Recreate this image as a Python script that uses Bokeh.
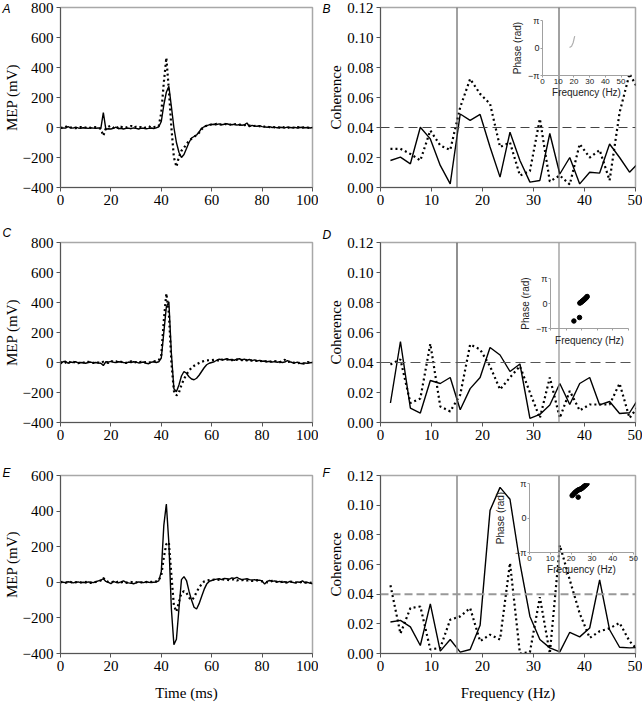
import math
from bokeh.plotting import figure
from bokeh.models import GridBox, Range1d, FixedTicker, Label, Span, NumeralTickFormatter
from bokeh.embed import file_html
from bokeh.resources import INLINE

# ---------------- data ----------------
time_ms = [0, 1, 2, 3, 4, 5, 6, 7, 8, 9, 10, 11, 12, 13, 14, 15, 16, 17, 18, 19,
           20, 21, 22, 23, 24, 25, 26, 27, 28, 29, 30, 31, 32, 33, 34, 35, 36, 37, 38, 39,
           40, 41, 42, 43, 44, 45, 46, 47, 48, 49, 50, 51, 52, 53, 54, 55, 56, 57, 58, 59,
           60, 61, 62, 63, 64, 65, 66, 67, 68, 69, 70, 71, 72, 73, 74, 75, 76, 77, 78, 79,
           80, 81, 82, 83, 84, 85, 86, 87, 88, 89, 90, 91, 92, 93, 94, 95, 96, 97, 98, 99, 100]

mep_a_solid = [-5, -3, -4, 6, -2, -4, 2, -3, -5, -2, -3, -6, -2, -4, -5, -3, -8,
               100,
               -12, -8, -10, -6, 2, -8, -5, -10, -6, -4, -8, -3, -6, -10, -4, -5, -8, -6, -3, -7, -2,
               5, 40, 150, 235, 275, 140, 0, -100, -165, -200, -180, -140, -100, -70, -60, -50, -30, -5, 5, 12, 18, 20,
               22, 20, 24, 18, 22, 25, 20, 18, 22, 16, 20, 15, 18, 30, 5, 14, 10, 8, 12, 6,
               4, 2, 6, 0, 3, -2, 2, 0, -3, 2, 0, -2, 1, -3, 0, 2, -2, 0, -3, 0]
mep_a_dotted = [0, -3, 5, 8, 0, -2, -5, 0, 3, -2, 0, 5, -3, 0, 2, -2, -10,
                -55,
                -5, 5, 12, -2, 8, -5, 5, -3, 0, 6, 10, -2, 5, 0, 3, -4, 2, 8, 0, 3, 5,
                10, 100, 300, 465, 250, 0, -200, -262, -195, -155, -135, -110, -90, -75, -62, -50, -35, -12, 5, 12, 18, 20,
                20, 24, 22, 18, 25, 20, 22, 17, 20, 24, 18, 20, 16, 18, 12, 15, 10, 12, 8, 10,
                5, 8, 2, 5, 0, 3, -2, 4, 0, -3, 2, 0, -2, 3, 0, -2, 2, 0, -3, 0]
mep_c_solid = [-10, 5, 8, -5, 3, 0, 5, -3, 0, -2, -5, 0, 3, -2, 0, -3, -5,
               -20,
               5, 3, 8, 2, 0, 5, 3, 0, -2, 3, 0, 5, 2, -3, 0, 3, -5, -8, 2, 5, 0,
               5, 30, 200, 370, 405, 60, -175, -195, -150, -90, -60, -72, -95, -110, -115, -105, -85, -60, -35, -15, -5, 0,
               5, 15, 22, 18, 20, 25, 18, 20, 15, 22, 25, 18, 22, 15, 20, 12, 18, 10, 14, 8,
               10, 5, 8, 3, 6, 2, 5, 0, 3, 12, 5, 0, -3, 2, -5, -8, -3, -6, -2, 0]
mep_c_dotted = [5, -8, 0, 10, -3, 5, 0, -5, 3, 0, -2, 5, 0, -3, 2, 0, -3,
                5,
                0, -3, 10, 5, 8, -2, 5, 0, -3, 2, 8, 0, 3, -2, 5, 0, 2, -3, 5, 8, 10,
                15, 50, 280, 460, 330, 0, -190, -220, -200, -150, -110, -80, -55, -35, -22, -12, -3, 5, 10, 14, 15, 15,
                18, 15, 12, 20, 15, 18, 22, 15, 20, 18, 22, 15, 20, 14, 18, 12, 15, 10, 12, 8,
                10, 5, 8, 3, 10, 5, 2, 8, 18, 3, 5, 0, -3, -5, -2, -8, -5, 2, 0, 3]
mep_e_solid = [5, 0, -2, 3, 0, -3, 0, 2, -2, 0, -3, 2, 0, -2, 3, 8, 12,
               20,
               5, 0, -8, 5, 0, -3, 2, 8, 0, -3, -5, -8, -3, 2, 0, -2, 3, 0, -2, 0, 2,
               8, 60, 320, 440, 220, -150, -350, -320, -150, 15, 32, 10, -50, -100, -140, -150, -120, -80, -40, -10, 5, 10,
               15, 18, 20, 15, 22, 20, 18, 25, 22, 28, 20, 15, 18, 20, 15, 12, 15, 10, 12, 8,
               -10, 5, 10, 5, 8, 2, 5, 0, 3, -2, 5, 0, -3, 2, 0, 8, -2, 0, -5, -8]
mep_e_dotted = [0, 3, -2, 0, 2, -3, 0, 3, 0, -2, 2, 0, -3, 0, 2, 5, 10,
                25,
                8, 2, 0, 3, -2, 5, 0, 2, -3, 0, 2, -2, 0, 3, 0, -2, 2, 0, 3, 0, 5,
                12, 40, 140, 215, 225, 40, -130, -165, -110, -60, -50, -60, -85, -100, -85, -55, -30, -10, 5, 10, 12, 14,
                15, 12, 15, 18, 14, 16, 12, 15, 18, 10, 14, 12, 15, 10, 12, 8, 10, 12, 8, 5,
                5, 0, 3, 8, 5, 2, 0, 3, -2, 0, 5, 2, 0, -3, 0, 2, -2, 0, -3, 0]

freq_hz = [1.95, 3.91, 5.86, 7.81, 9.77, 11.72, 13.67, 15.63, 17.58, 19.53, 21.48, 23.44, 25.39,
           27.34, 29.30, 31.25, 33.20, 35.16, 37.11, 39.06, 41.02, 42.97, 44.92, 46.88, 48.83, 50.78]

coh_b_solid = [0.0180, 0.0202, 0.0158, 0.0402, 0.0324, 0.0147, 0.0024, 0.0490, 0.0447, 0.0487, 0.0270, 0.0069, 0.0369,
               0.0180, 0.0036, 0.0047, 0.0360, 0.0090, 0.0200, 0.0024, 0.0102, 0.0096, 0.0290, 0.0200, 0.0102, 0.0170]
coh_b_dotted = [0.0258, 0.0258, 0.0224, 0.0180, 0.0380, 0.0280, 0.0250, 0.0535, 0.0724, 0.0624, 0.0558, 0.0270, 0.0300,
                0.0080, 0.0110, 0.0458, 0.0040, 0.0080, 0.0020, 0.0290, 0.0200, 0.0250, 0.0047, 0.0500, 0.0758, 0.0640]
coh_d_solid = [0.0130, 0.0540, 0.0096, 0.0063, 0.0280, 0.0260, 0.0300, 0.0085, 0.0226, 0.0300, 0.0500, 0.0450, 0.0340,
               0.0390, 0.0027, 0.0054, 0.0117, 0.0260, 0.0120, 0.0260, 0.0300, 0.0117, 0.0140, 0.0060, 0.0065, 0.0170]
coh_d_dotted = [0.0387, 0.0420, 0.0130, 0.0160, 0.0525, 0.0107, 0.0074, 0.0185, 0.0520, 0.0487, 0.0375, 0.0220, 0.0300,
                0.0375, 0.0200, 0.0030, 0.0300, 0.0030, 0.0210, 0.0080, 0.0120, 0.0120, 0.0120, 0.0260, 0.0030, 0.0120]
coh_f_solid = [0.0212, 0.0223, 0.0180, 0.0054, 0.0335, 0.0016, 0.0094, 0.0009, 0.0027, 0.0190, 0.0965, 0.1120, 0.1040,
               0.0610, 0.0250, 0.0094, 0.0038, 0.0011, 0.0143, 0.0112, 0.0172, 0.0496, 0.0160, 0.0042, 0.0038, 0.0040]
coh_f_dotted = [0.0460, 0.0134, 0.0306, 0.0317, 0.0027, 0.0038, 0.0228, 0.0250, 0.0306, 0.0083, 0.0127, 0.0094, 0.0610,
                0.0000, 0.0010, 0.0380, 0.0000, 0.0730, 0.0496, 0.0270, 0.0105, 0.0150, 0.0170, 0.0206, 0.0083, 0.0010]

coh_threshold = 0.04
band_edges_hz = [15, 35]

phase_b_freq = [17.2, 18.5, 19.5, 20.5]
phase_b_rad = [0.05, 0.2, 0.6, 1.35]
phase_d_freq = [15.0, 18.6, 18.8, 19.2, 19.6, 20.0, 20.4, 20.8, 21.2, 21.6, 22.0, 22.4, 22.8, 23.2, 23.5]
phase_d_rad = [-2.2, -1.76, 0.05, 0.1, 0.17, 0.22, 0.3, 0.36, 0.42, 0.5, 0.56, 0.64, 0.72, 0.8, 0.88]
phase_f_freq = [20.5, 21.0, 21.5, 22.0, 22.5, 23.0, 23.5, 23.4, 24.0, 24.5, 25.0, 25.5, 26.0, 26.5, 27.0, 27.4, 27.7]
phase_f_rad = [2.04, 2.14, 2.25, 2.35, 2.42, 2.5, 2.56, 1.9, 2.6, 2.62, 2.68, 2.75, 2.83, 2.92, 3.0, 3.08, 3.14]

time_ticks = [0, 20, 40, 60, 80, 100]
mep_ticks_ac = [-400, -200, 0, 200, 400, 600, 800]
mep_ticks_e = [-400, -200, 0, 200, 400, 600]
freq_ticks = [0, 10, 20, 30, 40, 50]
coh_ticks = [0.0, 0.02, 0.04, 0.06, 0.08, 0.10, 0.12]
phase_ticks = [-math.pi, 0, math.pi]
phase_tick_text = {-math.pi: "\u2212\u03c0", 0: "0", math.pi: "\u03c0"}
panel_letters = ["A", "B", "C", "D", "E", "F"]

SERIF = "Liberation Serif"
SANS = "Liberation Sans"

# cell sizes (px)
LW, RW = 318, 324
ROW_H = [226, 238, 239]


def base_fig(width, height, bl, br, bt, bb, xr, yr):
    p = figure(width=width, height=height, x_range=Range1d(*xr), y_range=Range1d(*yr),
               output_backend="svg", toolbar_location=None,
               min_border_left=bl, min_border_right=br, min_border_top=bt, min_border_bottom=bb,
               align="start", frame_align=False)
    p.grid.visible = False
    return p


def main_fig(width, height, bl, br, bt, bb, xr, yr, xt, yt, ylabel, xlabel=None, yfmt=None):
    p = base_fig(width, height, bl, br, bt, bb, xr, yr)
    p.outline_line_color = "#a8a8a8"
    p.outline_line_width = 1.5
    p.background_fill_color = "white"
    p.xaxis.ticker = FixedTicker(ticks=xt)
    p.yaxis.ticker = FixedTicker(ticks=yt)
    if yfmt:
        p.yaxis.formatter = NumeralTickFormatter(format=yfmt)
    for ax in (p.xaxis[0], p.yaxis[0]):
        ax.axis_line_color = "#555555"
        ax.major_tick_line_color = "#555555"
        ax.minor_tick_line_color = None
        ax.major_tick_out = 4
        ax.major_tick_in = 0
        ax.major_label_standoff = 3
        ax.major_label_text_font = SERIF
        ax.major_label_text_font_size = "15px"
        ax.major_label_text_color = "black"
        ax.axis_label_text_font = SERIF
        ax.axis_label_text_font_size = "15px"
        ax.axis_label_text_font_style = "normal"
        ax.axis_label_text_color = "black"
        ax.axis_label_standoff = 0
    p.xaxis.major_label_standoff = 3
    p.yaxis.axis_label = ylabel
    if xlabel:
        p.xaxis.axis_label = xlabel
        p.xaxis.axis_label_standoff = 11
    return p


def letter_overlay(width, height, letter, lx, ly):
    p = base_fig(width, height, 0, 0, 0, 0, (0, width), (height, 0))
    p.axis.visible = False
    p.outline_line_color = None
    p.background_fill_color = None
    p.border_fill_color = None
    p.add_layout(Label(x=lx, y=ly, text=letter, text_font=SANS, text_font_style="italic",
                       text_font_size="12px", text_baseline="middle", text_align="left",
                       text_color="black"))
    return p


def inset_fig(width, height, bl, br, bt, bb, xr, show_xlabels, ylabel_standoff=2):
    p = base_fig(width, height, bl, br, bt, bb, xr, (-math.pi, math.pi))
    p.outline_line_color = None
    p.background_fill_color = None
    p.border_fill_color = None
    p.xaxis.ticker = FixedTicker(ticks=freq_ticks)
    p.yaxis.ticker = FixedTicker(ticks=phase_ticks)
    p.yaxis.major_label_overrides = phase_tick_text
    for ax in (p.xaxis[0], p.yaxis[0]):
        ax.axis_line_color = "#a0a0a0"
        ax.major_tick_line_color = "#a0a0a0"
        ax.minor_tick_line_color = None
        ax.major_tick_out = 2
        ax.major_tick_in = 0
        ax.major_label_standoff = 1
        ax.major_label_text_font = SANS
        ax.major_label_text_font_size = "8px"
        ax.major_label_text_color = "#222222"
        ax.axis_label_text_font = SANS
        ax.axis_label_text_font_size = "10px"
        ax.axis_label_text_font_style = "normal"
        ax.axis_label_text_color = "#222222"
        ax.axis_label_standoff = 2
    p.yaxis.major_label_text_font_size = "9px"
    p.yaxis.axis_label_standoff = ylabel_standoff
    p.xaxis.axis_label = "Frequency (Hz)"
    p.yaxis.axis_label = "Phase (rad)"
    if not show_xlabels:
        p.xaxis.major_label_text_alpha = 0
        p.xaxis.axis_label_standoff = 4
    else:
        p.xaxis.axis_label_standoff = 0
    return p


# ---------------- MEP panels ----------------
pA = main_fig(LW, ROW_H[0], 58, 6, 7, 39, (0, 100), (-400, 800), time_ticks, mep_ticks_ac, "MEP (mV)")
pC = main_fig(LW, ROW_H[1], 58, 6, 16, 42, (0, 100), (-400, 800), time_ticks, mep_ticks_ac, "MEP (mV)")
pE = main_fig(LW, ROW_H[2], 58, 6, 11, 49, (0, 100), (-400, 600), time_ticks, mep_ticks_e, "MEP (mV)",
              xlabel="Time (ms)")
for p, s, d in ((pA, mep_a_solid, mep_a_dotted), (pC, mep_c_solid, mep_c_dotted), (pE, mep_e_solid, mep_e_dotted)):
    p.line(time_ms, d, line_color="black", line_width=2.2, line_dash="2 3")
    p.line(time_ms, s, line_color="black", line_width=1.4)

# ---------------- coherence panels ----------------
pB = main_fig(RW, ROW_H[0], 62, 7, 7, 39, (0, 50), (0, 0.12), freq_ticks, coh_ticks, "Coherence", yfmt="0.00")
pD = main_fig(RW, ROW_H[1], 62, 7, 16, 42, (0, 50), (0, 0.12), freq_ticks, coh_ticks, "Coherence", yfmt="0.00")
pF = main_fig(RW, ROW_H[2], 62, 7, 11, 49, (0, 50), (0, 0.12), freq_ticks, coh_ticks, "Coherence", yfmt="0.00",
              xlabel="Frequency (Hz)")

styles = {
    pB: dict(vcol=["#444444", "#444444"], vw=1.0, tcol="#444444", tw=1.0, tdash="9 5"),
    pD: dict(vcol=["#555555", "#999999"], vw=1.3, tcol="#555555", tw=1.0, tdash="10 5"),
    pF: dict(vcol=["#888888", "#888888"], vw=1.5, tcol="#999999", tw=2.0, tdash="8 4"),
}
for p, s, d in ((pB, coh_b_solid, coh_b_dotted), (pD, coh_d_solid, coh_d_dotted), (pF, coh_f_solid, coh_f_dotted)):
    st = styles[p]
    for edge, col in zip(band_edges_hz, st["vcol"]):
        p.add_layout(Span(location=edge, dimension="height", line_color=col, line_width=st["vw"]))
    p.add_layout(Span(location=coh_threshold, dimension="width", line_color=st["tcol"],
                      line_width=st["tw"], line_dash=st["tdash"]))
    p.line(freq_hz, d, line_color="black", line_width=2.2, line_dash="2 3")
    p.line(freq_hz, s, line_color="black", line_width=1.4)

# ---------------- phase insets (transparent overlays, frame placed by borders) ----------------
iB = inset_fig(RW, ROW_H[0], 224, 12, 20, 151, (0, 56), True)
iB.line(phase_b_freq, phase_b_rad, line_color="#b0b0b0", line_width=1.2)

iD = inset_fig(RW, ROW_H[1], 232, 14, 52, 136, (0, 50), False)
iD.scatter(phase_d_freq, phase_d_rad, size=4.5, color="black")

iF = inset_fig(RW, ROW_H[2], 211, 9, 19, 151, (0, 50), True, ylabel_standoff=6)
iF.scatter(phase_f_freq, phase_f_rad, size=4.5, color="black")

# ---------------- panel letters ----------------
lA = letter_overlay(LW, ROW_H[0], panel_letters[0], 2, 8)
lB = letter_overlay(RW, ROW_H[0], panel_letters[1], 4, 8)
lC = letter_overlay(LW, ROW_H[1], panel_letters[2], 2, 6)
lD = letter_overlay(RW, ROW_H[1], panel_letters[3], 4, 8)
lE = letter_overlay(LW, ROW_H[2], panel_letters[4], 2, 8)
lF = letter_overlay(RW, ROW_H[2], panel_letters[5], 4, 8)

grid = GridBox(children=[(pA, 0, 0), (lA, 0, 0), (pB, 0, 1), (iB, 0, 1), (lB, 0, 1),
                         (pC, 1, 0), (lC, 1, 0), (pD, 1, 1), (iD, 1, 1), (lD, 1, 1),
                         (pE, 2, 0), (lE, 2, 0), (pF, 2, 1), (iF, 2, 1), (lF, 2, 1)], spacing=0)

open("out.html", "w").write(file_html(grid, INLINE))
